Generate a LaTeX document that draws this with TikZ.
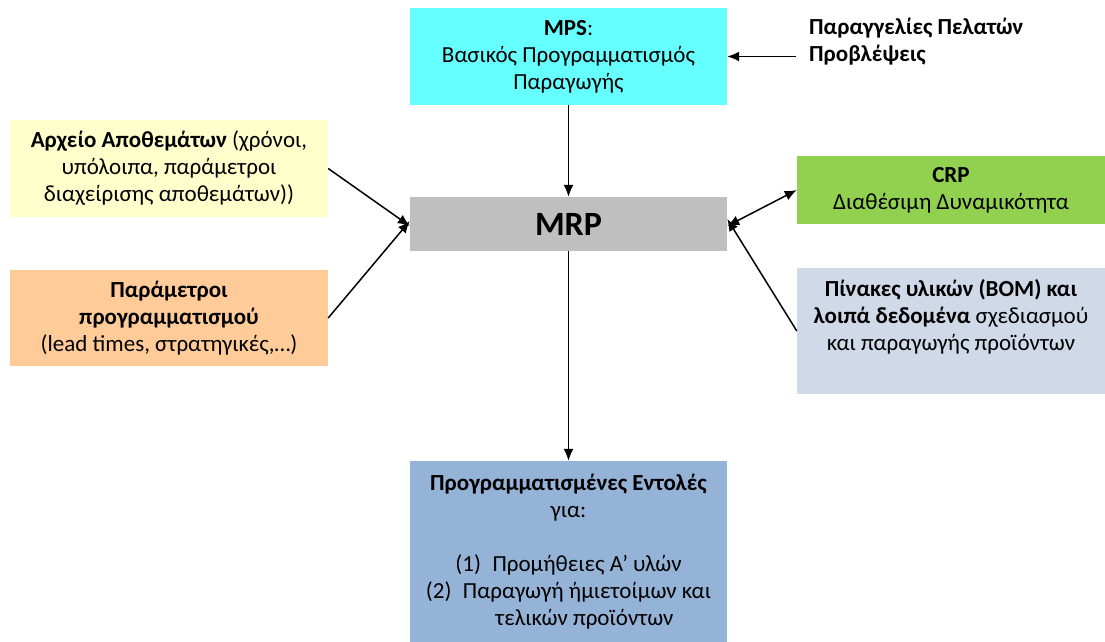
\documentclass[tikz,border=0pt]{standalone}
\usepackage{fontspec}
\setmainfont{Carlito}
\usetikzlibrary{arrows.meta}
\definecolor{mpscyan}{HTML}{66FFFF}
\definecolor{mrpgray}{HTML}{BFBFBF}
\definecolor{invyellow}{HTML}{FFFFCC}
\definecolor{parorange}{HTML}{FFCC99}
\definecolor{crpgreen}{HTML}{92D050}
\definecolor{bomblue}{HTML}{D0D9E8}
\definecolor{ordblue}{HTML}{95B3D7}
\tikzset{
  box/.style={draw=none, inner sep=0pt, align=center,
    font=\fontsize{23}{27}\selectfont},
  tip/.tip={Latex[length=12pt,width=10pt]},
  conn/.style={line width=1.5pt, -tip},
  conn2/.style={line width=1.5pt, tip-tip}
}
\begin{document}
\begin{tikzpicture}[x=1pt,y=-1pt]
\useasboundingbox (0,0) rectangle (1105,642);

\node[box, fill=mpscyan, minimum width=317pt, minimum height=97pt] (mps) at (568.5,56.5)
  {\textbf{MPS}:\\Βασικός Προγραμματισμός\\Παραγωγής};
\node[box, fill=mrpgray, minimum width=317pt, minimum height=54pt,
  font=\fontsize{34}{40}\selectfont\bfseries] (mrp) at (568.5,224) {MRP};
\node[box, fill=invyellow, minimum width=318pt, minimum height=97pt] (inv) at (169,168.5)
  {\textbf{Αρχείο Αποθεμάτων} (χρόνοι,\\υπόλοιπα, παράμετροι\\διαχείρισης αποθεμάτων))};
\node[box, fill=parorange, minimum width=318pt, minimum height=96pt] (par) at (169,318)
  {\textbf{Παράμετροι}\\\textbf{προγραμματισμού}\\(lead times, στρατηγικές,…)};
\node[box, fill=crpgreen, minimum width=308pt, minimum height=68pt] (crp) at (951,190)
  {\textbf{CRP}\\Διαθέσιμη Δυναμικότητα};
\node[box, fill=bomblue, minimum width=308pt, minimum height=126pt] (bom) at (951,331)
  {\textbf{Πίνακες υλικών (BOM) και}\\\textbf{λοιπά δεδομένα} σχεδιασμού\\και παραγωγής προϊόντων\\[6pt]};
\node[box, fill=ordblue, minimum width=317pt, minimum height=181pt] (ord) at (568.5,551.5)
  {\textbf{Προγραμματισμένες Εντολές}\\για:\\[27pt]
   (1)\enspace Προμήθειες Α’ υλών\\
   (2)\enspace Παραγωγή ήμιετοίμων και\\
   \hspace*{32pt}τελικών προϊόντων};
\node[box, align=left, inner xsep=13pt, anchor=west,
  font=\fontsize{23}{27}\selectfont\bfseries] (cust) at (796,42)
  {Παραγγελίες Πελατών\\Προβλέψεις};

\draw[conn] (cust.west |- mps.east) -- (mps.east);
\draw[conn] (mps.south) -- (mrp.north);
\draw[conn] (inv.east) -- ([yshift=-2pt]mrp.west);
\draw[conn] (par.east) -- ([yshift=3pt]mrp.west);
\draw[conn2] ([yshift=-2pt]mrp.east) -- (crp.west);
\draw[conn] (bom.west) -- ([yshift=5pt]mrp.east);
\draw[conn] (mrp.south) -- (ord.north);
\end{tikzpicture}
\end{document}
